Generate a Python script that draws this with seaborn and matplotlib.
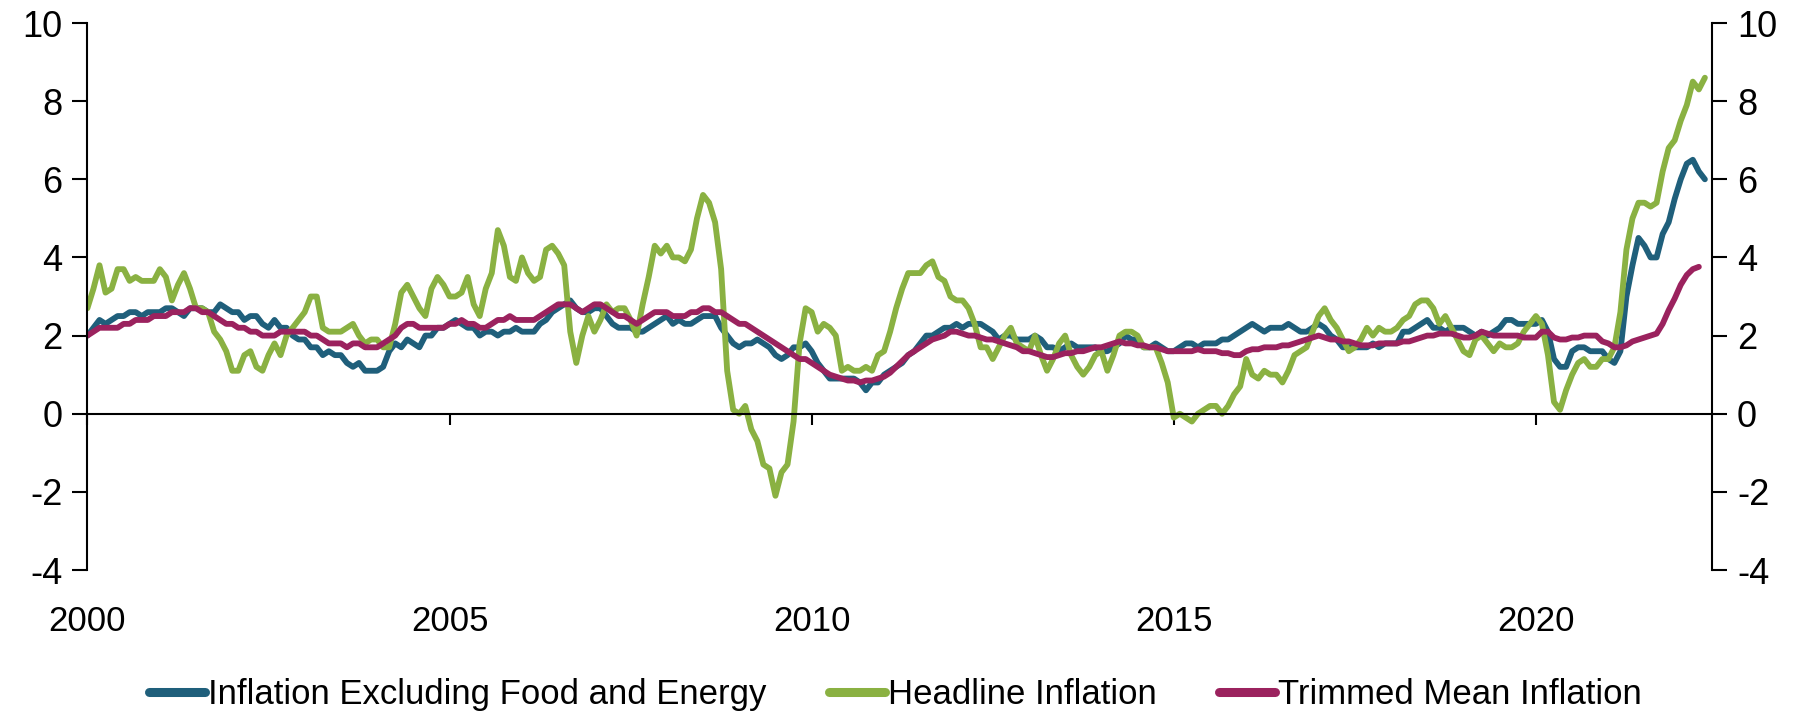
import numpy as np
import pandas as pd
import seaborn as sns
import matplotlib.pyplot as plt

# monthly, Jan 2000 onwards (year-over-year % change)
headline = [
    2.7, 3.2, 3.8, 3.1, 3.2, 3.7, 3.7, 3.4, 3.5, 3.4, 3.4, 3.4,
    3.7, 3.5, 2.9, 3.3, 3.6, 3.2, 2.7, 2.7, 2.6, 2.1, 1.9, 1.6,
    1.1, 1.1, 1.5, 1.6, 1.2, 1.1, 1.5, 1.8, 1.5, 2.0, 2.2, 2.4,
    2.6, 3.0, 3.0, 2.2, 2.1, 2.1, 2.1, 2.2, 2.3, 2.0, 1.8, 1.9,
    1.9, 1.7, 1.7, 2.3, 3.1, 3.3, 3.0, 2.7, 2.5, 3.2, 3.5, 3.3,
    3.0, 3.0, 3.1, 3.5, 2.8, 2.5, 3.2, 3.6, 4.7, 4.3, 3.5, 3.4,
    4.0, 3.6, 3.4, 3.5, 4.2, 4.3, 4.1, 3.8, 2.1, 1.3, 2.0, 2.5,
    2.1, 2.4, 2.8, 2.6, 2.7, 2.7, 2.4, 2.0, 2.8, 3.5, 4.3, 4.1,
    4.3, 4.0, 4.0, 3.9, 4.2, 5.0, 5.6, 5.4, 4.9, 3.7, 1.1, 0.1,
    0.0, 0.2, -0.4, -0.7, -1.3, -1.4, -2.1, -1.5, -1.3, -0.2, 1.8, 2.7,
    2.6, 2.1, 2.3, 2.2, 2.0, 1.1, 1.2, 1.1, 1.1, 1.2, 1.1, 1.5,
    1.6, 2.1, 2.7, 3.2, 3.6, 3.6, 3.6, 3.8, 3.9, 3.5, 3.4, 3.0,
    2.9, 2.9, 2.7, 2.3, 1.7, 1.7, 1.4, 1.7, 2.0, 2.2, 1.8, 1.7,
    1.6, 2.0, 1.5, 1.1, 1.4, 1.8, 2.0, 1.5, 1.2, 1.0, 1.2, 1.5,
    1.6, 1.1, 1.5, 2.0, 2.1, 2.1, 2.0, 1.7, 1.7, 1.7, 1.3, 0.8,
    -0.1, 0.0, -0.1, -0.2, 0.0, 0.1, 0.2, 0.2, 0.0, 0.2, 0.5, 0.7,
    1.4, 1.0, 0.9, 1.1, 1.0, 1.0, 0.8, 1.1, 1.5, 1.6, 1.7, 2.1,
    2.5, 2.7, 2.4, 2.2, 1.9, 1.6, 1.7, 1.9, 2.2, 2.0, 2.2, 2.1,
    2.1, 2.2, 2.4, 2.5, 2.8, 2.9, 2.9, 2.7, 2.3, 2.5, 2.2, 1.9,
    1.6, 1.5, 1.9, 2.0, 1.8, 1.6, 1.8, 1.7, 1.7, 1.8, 2.1, 2.3,
    2.5, 2.3, 1.5, 0.3, 0.1, 0.6, 1.0, 1.3, 1.4, 1.2, 1.2, 1.4,
    1.4, 1.7, 2.6, 4.2, 5.0, 5.4, 5.4, 5.3, 5.4, 6.2, 6.8, 7.0,
    7.5, 7.9, 8.5, 8.3, 8.6,
]

core = [
    2.0, 2.2, 2.4, 2.3, 2.4, 2.5, 2.5, 2.6, 2.6, 2.5, 2.6, 2.6,
    2.6, 2.7, 2.7, 2.6, 2.5, 2.7, 2.7, 2.7, 2.6, 2.6, 2.8, 2.7,
    2.6, 2.6, 2.4, 2.5, 2.5, 2.3, 2.2, 2.4, 2.2, 2.2, 2.0, 1.9,
    1.9, 1.7, 1.7, 1.5, 1.6, 1.5, 1.5, 1.3, 1.2, 1.3, 1.1, 1.1,
    1.1, 1.2, 1.6, 1.8, 1.7, 1.9, 1.8, 1.7, 2.0, 2.0, 2.2, 2.2,
    2.3, 2.4, 2.3, 2.2, 2.2, 2.0, 2.1, 2.1, 2.0, 2.1, 2.1, 2.2,
    2.1, 2.1, 2.1, 2.3, 2.4, 2.6, 2.7, 2.8, 2.9, 2.7, 2.6, 2.6,
    2.7, 2.7, 2.5, 2.3, 2.2, 2.2, 2.2, 2.1, 2.1, 2.2, 2.3, 2.4,
    2.5, 2.3, 2.4, 2.3, 2.3, 2.4, 2.5, 2.5, 2.5, 2.2, 2.0, 1.8,
    1.7, 1.8, 1.8, 1.9, 1.8, 1.7, 1.5, 1.4, 1.5, 1.7, 1.7, 1.8,
    1.6, 1.3, 1.1, 0.9, 0.9, 0.9, 0.9, 0.9, 0.8, 0.6, 0.8, 0.8,
    1.0, 1.1, 1.2, 1.3, 1.5, 1.6, 1.8, 2.0, 2.0, 2.1, 2.2, 2.2,
    2.3, 2.2, 2.3, 2.3, 2.3, 2.2, 2.1, 1.9, 2.0, 2.0, 1.9, 1.9,
    1.9, 2.0, 1.9, 1.7, 1.7, 1.6, 1.7, 1.8, 1.7, 1.7, 1.7, 1.7,
    1.6, 1.6, 1.7, 1.8, 2.0, 1.9, 1.9, 1.7, 1.7, 1.8, 1.7, 1.6,
    1.6, 1.7, 1.8, 1.8, 1.7, 1.8, 1.8, 1.8, 1.9, 1.9, 2.0, 2.1,
    2.2, 2.3, 2.2, 2.1, 2.2, 2.2, 2.2, 2.3, 2.2, 2.1, 2.1, 2.2,
    2.3, 2.2, 2.0, 1.9, 1.7, 1.7, 1.7, 1.7, 1.7, 1.8, 1.7, 1.8,
    1.8, 1.8, 2.1, 2.1, 2.2, 2.3, 2.4, 2.2, 2.2, 2.1, 2.2, 2.2,
    2.2, 2.1, 2.0, 2.1, 2.0, 2.1, 2.2, 2.4, 2.4, 2.3, 2.3, 2.3,
    2.3, 2.4, 2.1, 1.4, 1.2, 1.2, 1.6, 1.7, 1.7, 1.6, 1.6, 1.6,
    1.4, 1.3, 1.6, 3.0, 3.8, 4.5, 4.3, 4.0, 4.0, 4.6, 4.9, 5.5,
    6.0, 6.4, 6.5, 6.2, 6.0,
]

trimmed = [
    2.0, 2.1, 2.2, 2.2, 2.2, 2.2, 2.3, 2.3, 2.4, 2.4, 2.4, 2.5,
    2.5, 2.5, 2.6, 2.6, 2.6, 2.7, 2.7, 2.6, 2.6, 2.5, 2.4, 2.3,
    2.3, 2.2, 2.2, 2.1, 2.1, 2.0, 2.0, 2.0, 2.1, 2.1, 2.1, 2.1,
    2.1, 2.0, 2.0, 1.9, 1.8, 1.8, 1.8, 1.7, 1.8, 1.8, 1.7, 1.7,
    1.7, 1.8, 1.9, 2.0, 2.2, 2.3, 2.3, 2.2, 2.2, 2.2, 2.2, 2.2,
    2.3, 2.3, 2.4, 2.3, 2.3, 2.2, 2.2, 2.3, 2.4, 2.4, 2.5, 2.4,
    2.4, 2.4, 2.4, 2.5, 2.6, 2.7, 2.8, 2.8, 2.8, 2.7, 2.6, 2.7,
    2.8, 2.8, 2.7, 2.6, 2.5, 2.5, 2.4, 2.3, 2.4, 2.5, 2.6, 2.6,
    2.6, 2.5, 2.5, 2.5, 2.6, 2.6, 2.7, 2.7, 2.6, 2.6, 2.5, 2.4,
    2.3, 2.3, 2.2, 2.1, 2.0, 1.9, 1.8, 1.7, 1.6, 1.5, 1.4, 1.4,
    1.3, 1.2, 1.1, 1.0, 0.95, 0.9, 0.85, 0.85, 0.8, 0.85, 0.85, 0.9,
    0.95, 1.05, 1.2, 1.35, 1.5, 1.6, 1.7, 1.8, 1.9, 1.95, 2.0, 2.1,
    2.1, 2.05, 2.0, 2.0, 1.95, 1.9, 1.9, 1.85, 1.8, 1.75, 1.7, 1.6,
    1.6, 1.55, 1.5, 1.45, 1.45, 1.5, 1.55, 1.55, 1.6, 1.6, 1.65, 1.7,
    1.7, 1.75, 1.8, 1.85, 1.8, 1.8, 1.75, 1.75, 1.7, 1.7, 1.65, 1.6,
    1.6, 1.6, 1.6, 1.6, 1.65, 1.6, 1.6, 1.6, 1.55, 1.55, 1.5, 1.5,
    1.6, 1.65, 1.65, 1.7, 1.7, 1.7, 1.75, 1.75, 1.8, 1.85, 1.9, 1.95,
    2.0, 1.95, 1.9, 1.9, 1.85, 1.85, 1.8, 1.75, 1.75, 1.75, 1.8, 1.8,
    1.8, 1.8, 1.85, 1.85, 1.9, 1.95, 2.0, 2.0, 2.05, 2.05, 2.05, 2.0,
    1.95, 1.95, 2.0, 2.1, 2.05, 2.0, 2.0, 2.0, 2.0, 2.0, 1.95, 1.95,
    1.95, 2.1, 2.1, 1.95, 1.9, 1.9, 1.95, 1.95, 2.0, 2.0, 2.0, 1.85,
    1.8, 1.7, 1.7, 1.75, 1.85, 1.9, 1.95, 2.0, 2.05, 2.3, 2.65, 2.95,
    3.3, 3.55, 3.7, 3.76,
]

series_names = ['Inflation Excluding Food and Energy', 'Headline Inflation', 'Trimmed Mean Inflation']
colors = ['#1F5F7B', '#8AB142', '#9B225E']
year_ticks = [2000, 2005, 2010, 2015, 2020]

frames = []
for name, vals in zip(series_names, [core, headline, trimmed]):
    frames.append(pd.DataFrame({'year': 2000 + np.arange(len(vals)) / 12,
                                'value': vals, 'series': name}))
df = pd.concat(frames, ignore_index=True)

sns.set_style('white')
plt.rcParams['font.family'] = ['Liberation Sans', 'DejaVu Sans']
plt.rcParams['axes.unicode_minus'] = False
plt.rcParams['text.color'] = 'black'

fig = plt.figure(figsize=(17.95, 7.19), dpi=100)
ax = fig.add_axes([0.0487, 0.2072, 0.905, 0.7608])

sns.lineplot(data=df, x='year', y='value', hue='series', hue_order=series_names,
             palette=colors, linewidth=4.2, ax=ax)

ax.set_xlim(2000, 2022.43)
ax.set_ylim(-4, 10)
ax.set_yticks(range(-4, 11, 2))
ax.set_xticks(year_ticks)
ax.set_xticklabels([str(y) for y in year_ticks])
ax.set_xlabel('')
ax.set_ylabel('')

for s in ['left', 'right', 'bottom']:
    ax.spines[s].set_visible(True)
    ax.spines[s].set_color('black')
    ax.spines[s].set_linewidth(1.5)
ax.spines['top'].set_visible(False)
ax.spines['bottom'].set_position(('data', 0))

ax.tick_params(axis='y', left=True, right=True, labelleft=True, labelright=True,
               direction='out', length=11, width=1.5, pad=7, labelsize=26, colors='black')
ax.tick_params(axis='x', bottom=True, direction='out', length=8, width=1.5,
               pad=130, labelsize=25, colors='black')

sns.move_legend(ax, 'center', bbox_to_anchor=(0.499, 0.034), bbox_transform=fig.transFigure,
                ncol=3, frameon=False, title=None, fontsize=25,
                handlelength=1.6, handletextpad=0.1, columnspacing=1.8)
for line in ax.get_legend().get_lines():
    line.set_linewidth(6.5)
for t in ax.get_legend().get_texts():
    t.set_color('black')

fig.savefig('out.png', dpi=100)
